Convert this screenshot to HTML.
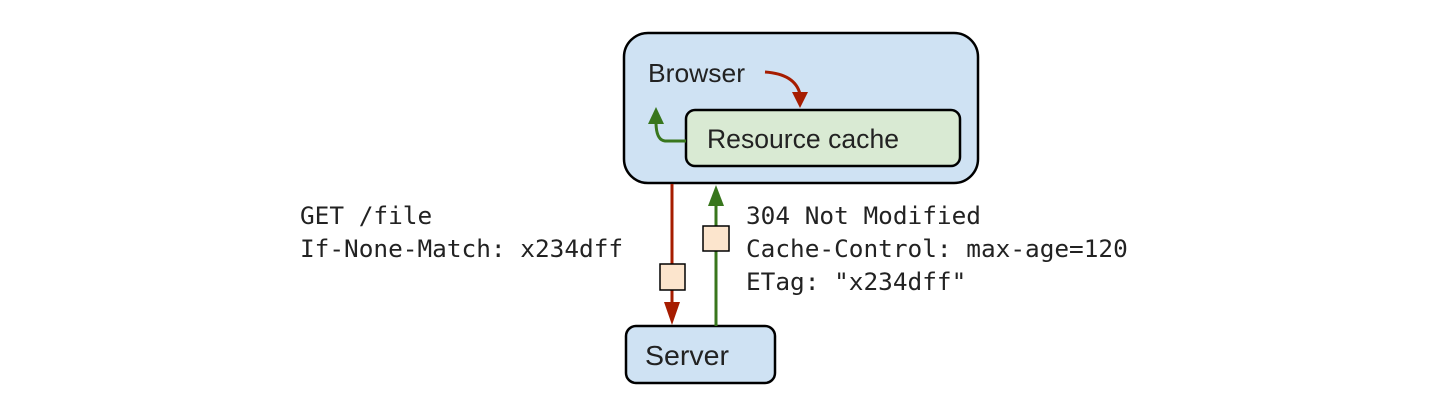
<!DOCTYPE html>
<html><head><style>
html,body{margin:0;padding:0;background:#fff;width:1440px;height:408px;overflow:hidden}
</style></head><body>
<svg width="1440" height="408" xmlns="http://www.w3.org/2000/svg">
<rect x="624" y="33" width="354" height="150" rx="24" fill="#cfe2f3" stroke="#000" stroke-width="2.5"/>
<rect x="686" y="110" width="274" height="56" rx="9" fill="#d9ead3" stroke="#000" stroke-width="2.5"/>
<rect x="626" y="326" width="149" height="57" rx="10" fill="#cfe2f3" stroke="#000" stroke-width="2.5"/>
<text x="648" y="82" font-family="Liberation Sans, sans-serif" font-size="26" fill="#222" textLength="97" lengthAdjust="spacingAndGlyphs">Browser</text>
<text x="707" y="148" font-family="Liberation Sans, sans-serif" font-size="26.5" fill="#222" textLength="192" lengthAdjust="spacingAndGlyphs">Resource cache</text>
<text x="645" y="365" font-family="Liberation Sans, sans-serif" font-size="28" fill="#222" textLength="84" lengthAdjust="spacingAndGlyphs">Server</text>
<path d="M765 72 Q795 74 800 94" fill="none" stroke="#a61c00" stroke-width="3"/>
<polygon points="792,92 808,92 800,108" fill="#a61c00"/>
<path d="M686 141 L665 141 Q656 140 656 122" fill="none" stroke="#38761d" stroke-width="3"/>
<polygon points="648,124 664,124 656,107" fill="#38761d"/>
<line x1="672" y1="184" x2="672" y2="305" stroke="#a61c00" stroke-width="3"/>
<polygon points="664,302 680,302 672,325" fill="#a61c00"/>
<rect x="660" y="264" width="25" height="26" fill="#fce5cd" stroke="#000" stroke-width="1.5"/>
<line x1="716" y1="326" x2="716" y2="202" stroke="#38761d" stroke-width="3"/>
<polygon points="708,206 724,206 716,185" fill="#38761d"/>
<rect x="703" y="226" width="26" height="25" fill="#fce5cd" stroke="#000" stroke-width="1.5"/>
<g font-family="DejaVu Sans Mono, Liberation Mono, monospace" font-size="24.4" fill="#222">
<text x="300" y="224">GET /file</text>
<text x="300" y="257">If-None-Match: x234dff</text>
<text x="746" y="224">304 Not Modified</text>
<text x="746" y="257">Cache-Control: max-age=120</text>
<text x="746" y="290">ETag: "x234dff"</text>
</g>
</svg>
</body></html>
